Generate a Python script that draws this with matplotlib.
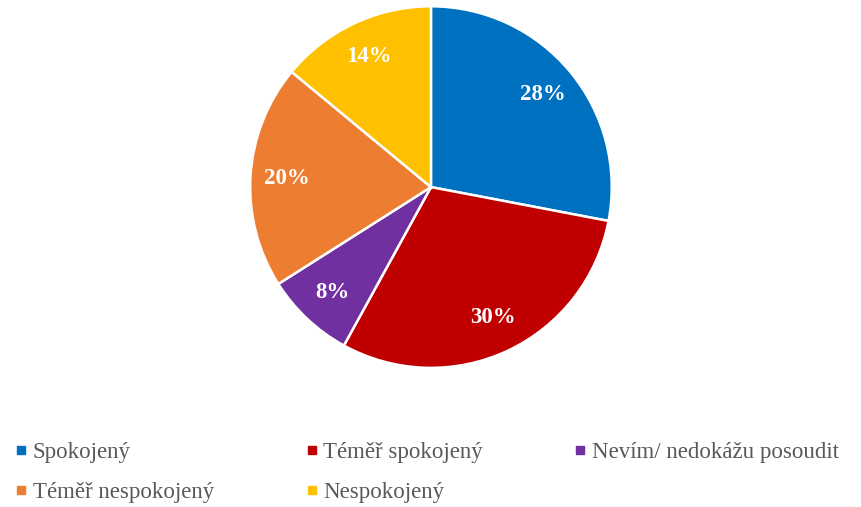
import matplotlib as mpl
mpl.use('Agg')

import matplotlib.pyplot as plt
from matplotlib.lines import Line2D

categories = ["Spokojený", "Téměř spokojený", "Nevím/ nedokážu posoudit",
              "Téměř nespokojený", "Nespokojený"]
shares = [28, 30, 8, 20, 14]
colors = ["#0070C0", "#C00000", "#7030A0", "#ED7D31", "#FFC000"]

plt.rcParams['font.family'] = ['Liberation Serif', 'DejaVu Serif']

fig = plt.figure(figsize=(8.62, 5.07), dpi=100)
ax = fig.add_axes([0.2923, 0.278, 0.4153, 0.706])

wedges, texts, autotexts = ax.pie(
    shares, colors=colors, startangle=90, counterclock=False,
    autopct=lambda p: f"{p:.0f}%", pctdistance=0.8,
    wedgeprops=dict(edgecolor='white', linewidth=1.8),
    textprops=dict(color='white', fontsize=16.5, fontweight='bold'))
ax.set_xlim(-0.99, 0.99)
ax.set_ylim(-0.99, 0.99)
ax.set_aspect('equal')

# legend filled column-wise, so reorder to get the row layout
order = [0, 3, 1, 4, 2]
handles = [Line2D([], [], marker='s', linestyle='none', markersize=5.5,
                  markerfacecolor=colors[i], markeredgecolor=colors[i])
           for i in order]
labels = [categories[i] for i in order]
leg = fig.legend(handles, labels, ncol=3, loc='upper left',
                 bbox_to_anchor=(0.0178, 0.129), frameon=False,
                 fontsize=16.5, handlelength=0.5, handletextpad=0.27,
                 columnspacing=4.0, labelspacing=0.83, borderaxespad=0,
                 borderpad=0)
for t in leg.get_texts():
    t.set_color('#595959')

fig.savefig("out.png", dpi=100)
